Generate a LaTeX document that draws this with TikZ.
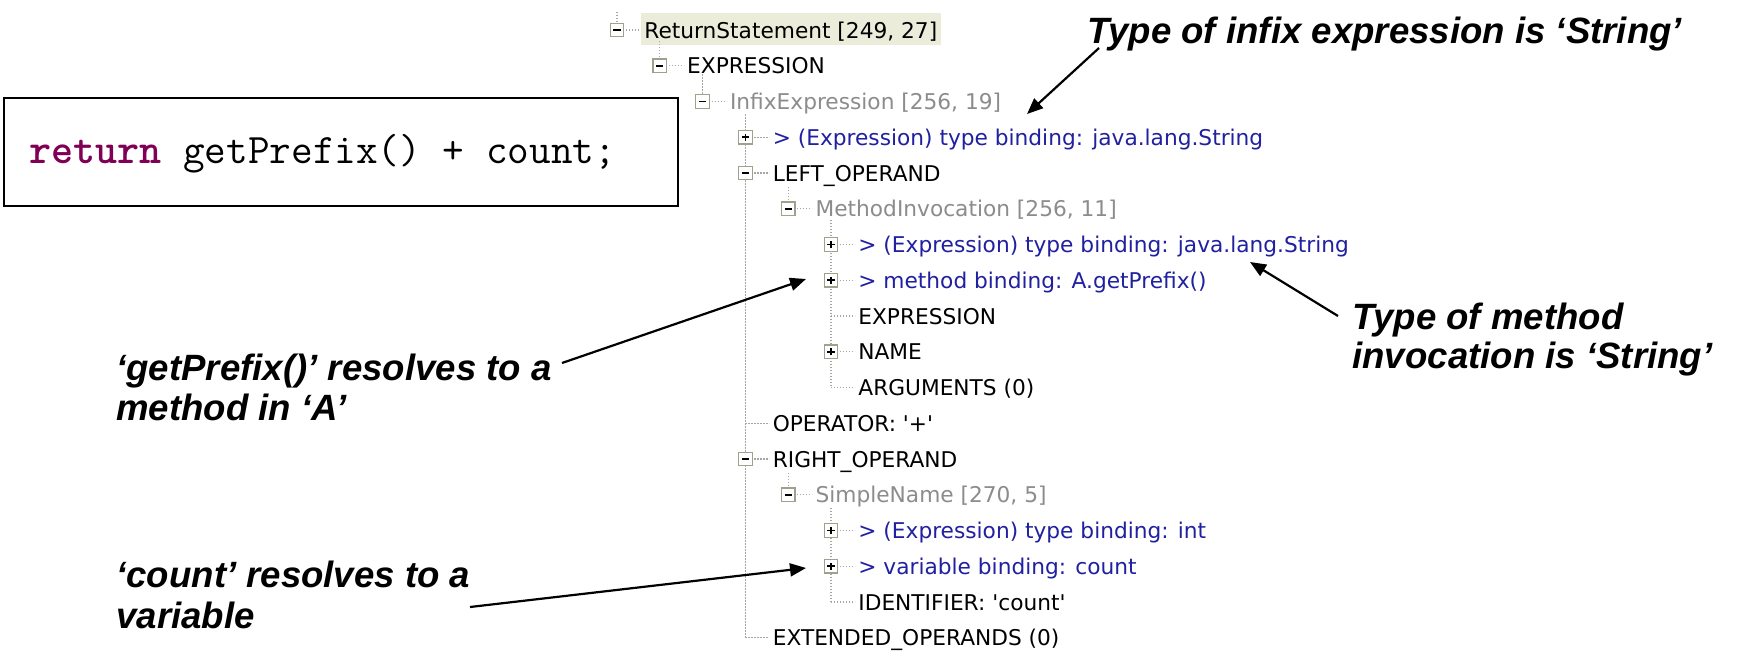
\documentclass[tikz,border=0pt]{standalone}
\usepackage{fontspec}
\setmainfont{DejaVu Sans}
\newfontfamily\treefont{DejaVu Sans}
\newfontfamily\annfont{Liberation Sans}
\usetikzlibrary{arrows.meta,calc}

\definecolor{kwcolor}{RGB}{127,0,85}
\definecolor{bindblue}{RGB}{32,32,160}
\definecolor{typegray}{RGB}{140,140,140}
\definecolor{treeline}{RGB}{165,165,165}
\definecolor{boxedge}{RGB}{160,160,140}
\definecolor{selbg}{RGB}{236,236,218}

\pgfdeclarelayer{background}
\pgfsetlayers{background,main}

\begin{document}
\begin{tikzpicture}[x=0.5pt,y=-0.5pt,
  item/.style={anchor=base west, inner sep=0pt, font=\treefont\fontsize{10.85pt}{13pt}\selectfont},
  plain/.style={item, text=black},
  typed/.style={item, text=typegray},
  binding/.style={item, text=bindblue},
  note/.style={anchor=base west, inner sep=0pt, font=\annfont\bfseries\itshape\fontsize{18.3pt}{21pt}\selectfont},
  guide/.style={draw=treeline, line width=0.6pt, dash pattern=on 0.6pt off 0.9pt},
  toggle/.style={draw=boxedge, fill=white, line width=0.6pt, minimum size=6.8pt, inner sep=0pt, outer sep=0pt},
  minusbox/.style={toggle, path picture={
      \draw[black, line width=0.9pt]
        ([xshift=-1.8pt]path picture bounding box.center) -- ([xshift=1.8pt]path picture bounding box.center);}},
  plusbox/.style={toggle, path picture={
      \draw[black, line width=0.9pt]
        ([xshift=-1.8pt]path picture bounding box.center) -- ([xshift=1.8pt]path picture bounding box.center)
        ([yshift=-1.8pt]path picture bounding box.center) -- ([yshift=1.8pt]path picture bounding box.center);}},
  codebox/.style={draw=black, line width=1pt, minimum width=337pt, minimum height=54pt, inner sep=0pt},
  codetext/.style={anchor=base west, inner sep=0pt, font=\ttfamily\fontsize{21pt}{24pt}\selectfont},
  callout/.style={draw=black, line width=1.1pt, -{Triangle[length=8pt,width=6.5pt]}},
]
\useasboundingbox (0,0) rectangle (1738,653);

% ---- source line ----
\node[codebox] (code) at (341,152) {};
\node[codetext] (src) at (29,163) {\textcolor{kwcolor}{\bfseries return} getPrefix() + count;};

% ---- AST tree ----
\node[minusbox] (t0) at (617,30) {};
\node[plain] (n0) at (644,38) {ReturnStatement [249, 27]};
\node[minusbox] (t1) at (659.8,65.75) {};
\node[plain] (n1) at (686.8,73.75) {EXPRESSION};
\node[minusbox] (t2) at (702.6,101.5) {};
\node[typed] (n2) at (729.6,109.5) {InfixExpression [256, 19]};
\node[plusbox] (t3) at (745.4,137.25) {};
\node[binding] (n3) at (772.4,145.25) {> (Expression) type binding: java.lang.String};
\node[minusbox] (t4) at (745.4,173) {};
\node[plain] (n4) at (772.4,181) {LEFT\_OPERAND};
\node[minusbox] (t5) at (788.2,208.75) {};
\node[typed] (n5) at (815.2,216.75) {MethodInvocation [256, 11]};
\node[plusbox] (t6) at (831,244.5) {};
\node[binding] (n6) at (858,252.5) {> (Expression) type binding: java.lang.String};
\node[plusbox] (t7) at (831,280.25) {};
\node[binding] (n7) at (858,288.25) {> method binding: A.getPrefix()};
\coordinate (j8) at (831,316);
\node[plain] (n8) at (858,324) {EXPRESSION};
\node[plusbox] (t9) at (831,351.75) {};
\node[plain] (n9) at (858,359.75) {NAME};
\coordinate (j10) at (831,387.5);
\node[plain] (n10) at (858,395.5) {ARGUMENTS (0)};
\coordinate (j11) at (745.4,423.25);
\node[plain] (n11) at (772.4,431.25) {OPERATOR: '+'};
\node[minusbox] (t12) at (745.4,459) {};
\node[plain] (n12) at (772.4,467) {RIGHT\_OPERAND};
\node[minusbox] (t13) at (788.2,494.75) {};
\node[typed] (n13) at (815.2,502.75) {SimpleName [270, 5]};
\node[plusbox] (t14) at (831,530.5) {};
\node[binding] (n14) at (858,538.5) {> (Expression) type binding: int};
\node[plusbox] (t15) at (831,566.25) {};
\node[binding] (n15) at (858,574.25) {> variable binding: count};
\coordinate (j16) at (831,602);
\node[plain] (n16) at (858,610) {IDENTIFIER: 'count'};
\coordinate (j17) at (745.4,637.75);
\node[plain] (n17) at (772.4,645.75) {EXTENDED\_OPERANDS (0)};

% ---- dotted tree guides, behind the toggles ----
\begin{pgfonlayer}{background}
  \fill[white] (0,0) rectangle (1738,653);
  \fill[selbg] (641,13) rectangle ($(n0.base east)+(3,7)$);
  \draw[guide] (617,12) -- (t0.center);
  \draw[guide] (t1 |- n0.south) -- (t1.center);
  \draw[guide] (t2 |- n1.south) -- (t2.center);
  \draw[guide] (t3 |- n2.south) -- (j17);
  \draw[guide] (t5 |- n4.south) -- (t5.center);
  \draw[guide] (t6 |- n5.south) -- (j10);
  \draw[guide] (t13 |- n12.south) -- (t13.center);
  \draw[guide] (t14 |- n13.south) -- (j16);
  \foreach \k in {0,1,2,3,4,5,6,7,9,12,13,14,15}
    \draw[guide] (t\k.center) -- ($(n\k.base west |- t\k.center)+(-3,0)$);
  \foreach \k in {8,10,11,16,17}
    \draw[guide] (j\k) -- ($(n\k.base west |- j\k)+(-3,0)$);
\end{pgfonlayer}

% ---- annotations ----
\node[note] (a1) at (1087,43) {Type of infix expression is ‘String’};
\node[note] (a2) at (1352,329) {Type of method};
\node[note] (a2b) at (1352,368) {invocation is ‘String’};
\node[note] (a3) at (116,380) {‘getPrefix()’ resolves to a};
\node[note] (a3b) at (116,420) {method in ‘A’};
\node[note] (a4) at (116,587) {‘count’ resolves to a};
\node[note] (a4b) at (116,628) {variable};

% ---- callout arrows ----
\coordinate (a1tail) at (1099,48);
\coordinate (a1tip) at (1027,114);
\coordinate (a2tail) at (1338,316);
\coordinate (a2tip) at (1250,262);
\coordinate (a3tail) at (562,363);
\coordinate (a3tip) at (806,279);
\coordinate (a4tail) at (470,607);
\coordinate (a4tip) at (806,568);
\draw[callout] (a1tail) -- (a1tip);
\draw[callout] (a2tail) -- (a2tip);
\draw[callout] (a3tail) -- (a3tip);
\draw[callout] (a4tail) -- (a4tip);
\end{tikzpicture}
\end{document}
